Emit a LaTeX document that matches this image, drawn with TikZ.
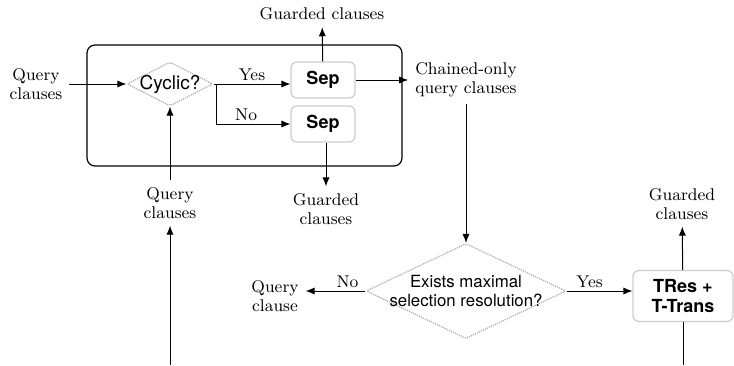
\documentclass[tikz,border=0pt]{standalone}
\usepackage{fontspec}
\newfontfamily\heros{TeX Gyre Heros}
\usetikzlibrary{shapes.geometric, arrows.meta}

\tikzstyle{txt}=[align=center, font=\fontsize{8.5}{9.5}\selectfont]
\tikzstyle{lbl}=[above, inner sep=1.5pt, font=\fontsize{8.5}{9.5}\selectfont]
\tikzstyle{decision}=[diamond, draw=gray!65, dash pattern=on 0.6pt off 0.5pt, line width=0.6pt, inner sep=0pt, rounded corners=1pt]
\tikzstyle{proc}=[draw=gray!40, line width=0.6pt, rounded corners=3pt, align=center, font=\heros\bfseries\fontsize{9}{10}\selectfont]
\tikzstyle{arr}=[-{Latex[length=4.5pt, width=3.6pt]}, line width=0.5pt]

\begin{document}
\begin{tikzpicture}[x=0.5pt, y=-0.5pt]
      \useasboundingbox (0,0) rectangle (734,365);
      % top part
      \node[draw, line width=0.6pt, rounded corners=4pt, minimum width=157.5pt, minimum height=60.5pt] (frame) at (244.5,105.5) {};
      \node[decision, minimum width=43pt, minimum height=22pt,
        label={[font=\heros\fontsize{9.5}{10}\selectfont]center:Cyclic?}] (cyc) at (170,84) {};
      \node[proc, minimum width=32pt, minimum height=18pt] (sep1) at (323,80) {Sep};
      \node[proc, minimum width=32pt, minimum height=18pt] (sep2) at (323,124) {Sep};
      \node[txt] (qleft) at (36,84) {Query\\clauses};
      \node[txt] (gtop) at (322,14) {Guarded clauses};
      \node[txt] (chain) at (466,80) {Chained-only\\query clauses};
      \node[txt] (gmid) at (326,209) {Guarded\\clauses};
      \node[txt] (qmid) at (170,203) {Query\\clauses};
      \coordinate (inL) at (170,365);
      % bottom part
      \node[decision, minimum width=100pt, minimum height=47.5pt,
        label={[align=center, font=\heros\fontsize{8.4}{9.5}\selectfont]center:Exists maximal\\selection resolution?}] (exist) at (466,291) {};
      \node[txt] (qclause) at (275,296) {Query\\clause};
      \node[proc, minimum width=50pt, minimum height=25.5pt] (tres) at (683,296) {TRes +\\T-Trans};
      \node[txt] (gright) at (682,204) {Guarded\\clauses};
      \coordinate (outR) at (683,365);

      \draw[arr] (qleft) -- (cyc);
      \draw[arr] (cyc.east) -- node[lbl] (yes1) {Yes} (cyc.east -| sep1.west);
      \draw[arr] (cyc.east) ++(3,0) |- node[lbl, pos=0.7] (no1) {No} (sep2);
      \draw[arr] (sep1) -- (gtop);
      \draw[arr] (sep1) -- (chain);
      \draw[arr] (sep2.south -| gmid) -- (gmid);
      \draw[arr] (qmid) -- (cyc);
      \draw[arr] (inL) -- (qmid);
      \draw[arr] (chain) -- (exist);
      \draw[arr] (exist.west) -- node[lbl, pos=0.3] (no2) {No} (exist.west -| qclause.east);
      \draw[arr] (exist.east) -- node[lbl, pos=0.35] (yes2) {Yes} (exist.east -| tres.west);
      \draw[arr] (tres) -- (gright);
      \draw[line width=0.5pt] (tres) -- (outR);
    \end{tikzpicture}
\end{document}
